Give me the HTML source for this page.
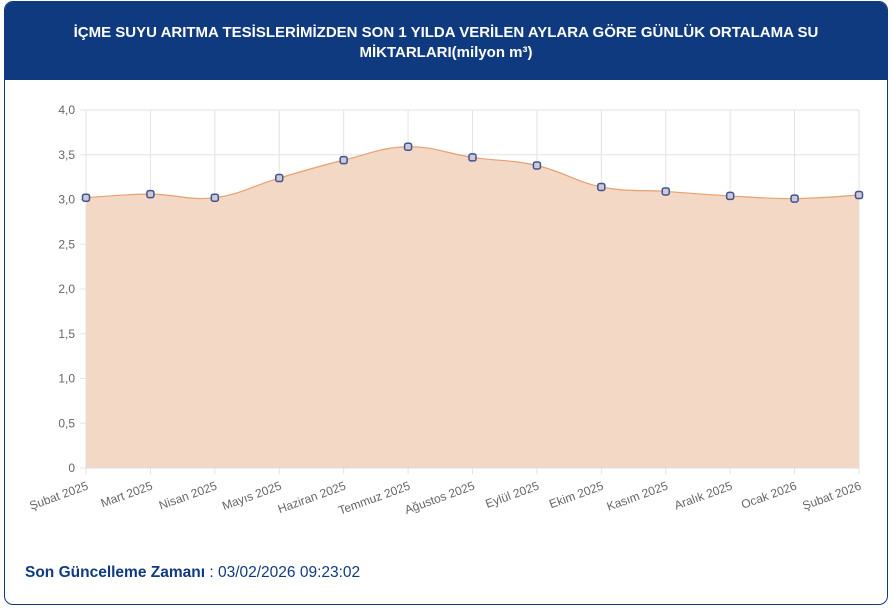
<!DOCTYPE html>
<html><head><meta charset="utf-8">
<style>
body{margin:0;width:892px;height:609px;background:#fff;overflow:hidden;font-family:"Liberation Sans",sans-serif;}
.card{position:absolute;left:4px;top:1px;width:882px;height:602px;border:1px solid #0f3a80;border-radius:9px;overflow:hidden;background:#fff;}
.hdr{position:absolute;left:0;top:0;width:100%;height:78px;background:#0f3a80;color:#fff;font-weight:bold;font-size:15px;text-align:center;line-height:20px;padding-top:21px;box-sizing:border-box;}
.foot{position:absolute;left:20px;top:562px;font-size:15.5px;color:#0f3a80;}
svg{position:absolute;left:0;top:0;}
</style></head><body>
<div class="card">
<div class="hdr">İÇME SUYU ARITMA TESİSLERİMİZDEN SON 1 YILDA VERİLEN AYLARA GÖRE GÜNLÜK ORTALAMA SU<br>MİKTARLARI(milyon m³)</div>
<div class="foot"><b>Son Güncelleme Zamanı</b> : 03/02/2026 09:23:02</div>
</div>
<svg id="s" width="892" height="609" xmlns="http://www.w3.org/2000/svg"></svg>
<script>
var s=document.getElementById('s');
var vals=[3.02,3.06,3.02,3.24,3.44,3.59,3.47,3.38,3.14,3.09,3.04,3.01,3.05];
var labs=["Şubat 2025","Mart 2025","Nisan 2025","Mayıs 2025","Haziran 2025","Temmuz 2025","Ağustos 2025","Eylül 2025","Ekim 2025","Kasım 2025","Aralık 2025","Ocak 2026","Şubat 2026"];
var x0=86,x1=859,yb=468,sc=89.5;
var P=vals.map(function(v,i){return [x0+i*(x1-x0)/12,yb-v*sc];});
var h='';
for(var k=0;k<=8;k++){var y=yb-k*0.5*sc;h+='<line x1="80" x2="859" y1="'+y+'" y2="'+y+'" stroke="#e3e3e3"/>';
h+='<text x="75" y="'+(y+4)+'" text-anchor="end" font-size="12" fill="#666">'+(k==0?'0':(k/2).toFixed(1).replace('.',','))+'</text>';}
P.forEach(function(p,i){h+='<line x1="'+p[0]+'" x2="'+p[0]+'" y1="110" y2="474" stroke="#e3e3e3"/>';
h+='<text transform="translate('+(p[0]+3)+',489) rotate(-20)" text-anchor="end" font-size="12" fill="#666">'+labs[i]+'</text>';});
var t=0.4,d='M'+P[0][0]+','+P[0][1];
for(var i=0;i<12;i++){var a=P[i>0?i-1:i],b=P[i],c=P[i+1],e=P[i<11?i+2:i+1];
var c1=[b[0]+(c[0]-a[0])*t/2,b[1]+(c[1]-a[1])*t/2],c2=[c[0]-(e[0]-b[0])*t/2,c[1]-(e[1]-b[1])*t/2];
d+=' C'+c1+' '+c2+' '+c;}
h+='<path d="'+d+' L859,468 L86,468 Z" fill="#f2d8c5"/>';
h+='<path d="'+d+'" fill="none" stroke="#e8a070" stroke-width="1.2"/>';
h+='<line x1="86" x2="859" y1="468" y2="468" stroke="#ddd"/>';
P.forEach(function(p){h+='<rect x="'+(p[0]-3.5)+'" y="'+(p[1]-3.5)+'" width="7" height="7" rx="2" fill="#d0c8d8" stroke="#3d5590" stroke-width="1.5"/>';});
s.innerHTML=h;
</script>
</body></html>
